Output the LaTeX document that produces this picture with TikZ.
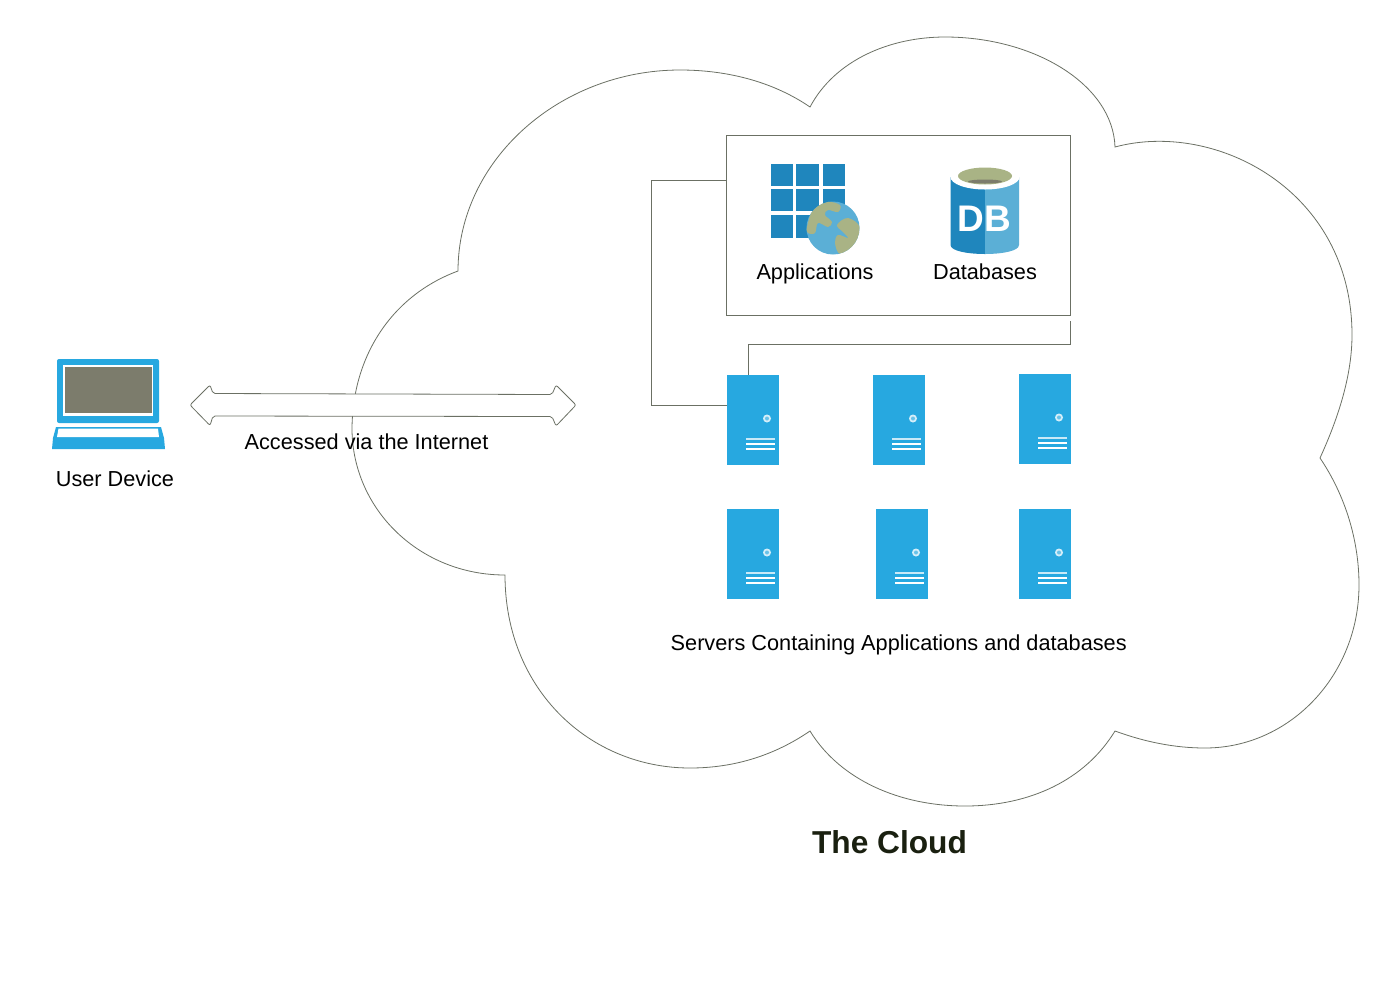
\documentclass[tikz,border=0pt]{standalone}
\usepackage{fontspec}
\setmainfont{Liberation Sans}
\definecolor{lineol}{HTML}{6B7064}
\definecolor{srvblue}{HTML}{27A8E0}
\definecolor{appblue}{HTML}{1F86BD}
\definecolor{lightblue}{HTML}{5BAFD6}
\definecolor{land}{HTML}{A9B385}
\definecolor{scr}{HTML}{7C7C6C}
\definecolor{titlecol}{HTML}{1A2010}
\tikzset{
  outline/.style={draw=lineol,line width=0.8pt},
  srv/.style={fill=srvblue,draw=none,minimum width=52pt,minimum height=90pt,inner sep=0pt,anchor=north west},
  lbl/.style={font=\fontsize{21.7}{24}\selectfont,text=black,inner sep=0pt,anchor=base},
  cell/.style={fill=appblue,draw=none}
}
\newcommand{\srvdetail}{%
  \fill[white!80!srvblue] (40,43.5) circle (4);
  \fill[srvblue!70!white] (40,43.5) circle (2);
  \fill[white!75!srvblue] (19,62.5) rectangle (48,64.5);
  \fill[white] (19,67.5) rectangle (48,69.5);
  \fill[white] (19,73) rectangle (48,75);
}
\begin{document}
\begin{tikzpicture}[x=1pt,y=-1pt]
\useasboundingbox (0,0) rectangle (1400,994);
% cloud
\draw[outline,fill=white] (810,107) .. controls (835,60) and (890,37) .. (945,37)
 .. controls (1035,37) and (1113,85) .. (1115,147)
 .. controls (1215,120) and (1352,190) .. (1352,335)
 .. controls (1352,380) and (1335,425) .. (1320,458)
 .. controls (1345,495) and (1359,540) .. (1359,585)
 .. controls (1359,675) and (1290,748) .. (1205,748)
 .. controls (1175,748) and (1145,742) .. (1115,731)
 .. controls (1085,780) and (1030,806) .. (965,806)
 .. controls (900,806) and (840,780) .. (810,731)
 .. controls (775,755) and (735,768) .. (690,768)
 .. controls (590,768) and (505,690) .. (505,575)
 .. controls (420,575) and (353,510) .. (352,430)
 .. controls (352,355) and (393,295) .. (458,271)
 .. controls (458,160) and (560,70) .. (680,70)
 .. controls (730,70) and (775,83) .. (810,107) -- cycle;
% double arrow
\draw[outline,fill=white,rounded corners=2pt] (190,405) -- (210,385) -- (213,393.5) -- (552,394.5) -- (556,385) -- (576,405) -- (556,426) -- (552,416.5) -- (213,416) -- (210,425.5) -- cycle;
% app box
\node[outline,fill=white,minimum width=344pt,minimum height=180pt,inner sep=0pt,anchor=north west] (appbox) at (725.5,134.5) {};
% servers
\foreach \n/\x/\y in {s1/727/375,s2/873/375,s3/1019/374,s4/727/509,s5/876/509,s6/1019/509}{
  \node[srv] (\n) at (\x,\y) {};
  \begin{scope}[shift={(\x,\y)}]\srvdetail\end{scope}
}
% connectors
\coordinate (boxl) at (725.5,180);
\coordinate (srvl) at (727,405);
\coordinate (boxb) at (1070,321);
\coordinate (srvt) at (748,375);
\draw[outline] (boxl) -- (651,180) -- (651,405) -- (srvl);
\draw[outline] (boxb) -- (1070,344) -- (748,344) -- (srvt);
% applications icon
\foreach \a/\b in {771/792.5,796/819,823/845}{
  \foreach \c/\d in {164/186,189/211,215/238}{
    \fill[cell] (\a,\c) rectangle (\b,\d);
  }
}
\begin{scope}
  \fill[lightblue] (833,228) circle (26.5);
  \clip (833,228) circle (26.5);
  \fill[land] plot[smooth cycle,tension=0.6] coordinates {(807,227) (813,210) (827,202) (840,205) (838,212) (828,210) (825,215) (832,222) (828,227) (818,223) (815,233) (808,233)};
  \fill[land] plot[smooth cycle,tension=0.6] coordinates {(837,225) (848,218) (860,228) (853,247) (840,254) (835,243) (838,235) (848,238) (843,232)};
\end{scope}
% database icon
\fill[appblue] (950.5,177) -- (985,177) -- (985,254) .. controls (968,254) and (950.5,251) .. (950.5,245) -- cycle;
\fill[lightblue] (985,177) -- (1019,177) -- (1019,245) .. controls (1019,251) and (1002,254) .. (985,254) -- cycle;
\fill[white] (985,177) ellipse (34.5 and 12.5);
\fill[land] (985,176) ellipse (27 and 8.5);
\fill[scr] (985,181.5) ellipse (17 and 2);
\node[inner sep=0pt,text=white,font=\fontsize{37}{37}\selectfont\bfseries] (dbtxt) at (984.5,218.5) {DB};
% laptop
\fill[srvblue,rounded corners=2pt] (57,359) rectangle (159,423);
\fill[white] (63,365) rectangle (153,416);
\fill[scr] (65,367) rectangle (152,413);
\fill[srvblue] (56,427) -- (161,427) -- (164,438) -- (165,449) -- (52,449) -- (53,438) -- cycle;
\fill[white] (58.5,428.5) -- (158,428.5) -- (159,437) -- (57,437) -- cycle;
% labels
\node[lbl] (lapps) at (815,279.3) {Applications};
\node[lbl] (ldbs) at (985,279.3) {Databases};
\node[lbl] (luser) at (115,486.8) {User Device};
\node[lbl] (lnet) at (366.5,449.8) {Accessed via the Internet};
\node[lbl] (lsrv) at (898.7,650.5) {Servers Containing Applications and databases};
\node[inner sep=0pt,text=titlecol,font=\fontsize{31.7}{34}\selectfont\bfseries] (ltitle) at (889.5,842) {The Cloud};
\end{tikzpicture}
\end{document}
